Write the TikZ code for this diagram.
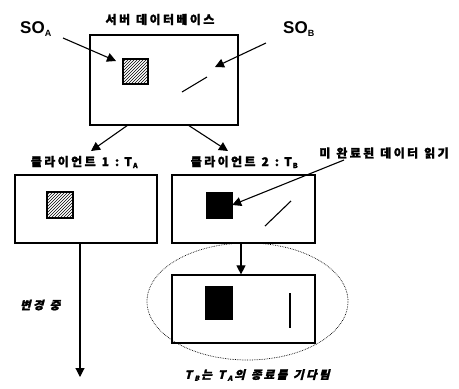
\documentclass[tikz,border=0pt]{standalone}
\usepackage{fontspec}
\newfontfamily\kr{Noto Sans CJK KR}[BoldFeatures={FakeBold=1.5}, LetterSpace=20]
\newfontfamily\krsl{Noto Sans CJK KR}[FakeSlant=0.25, BoldFeatures={FakeBold=1.5}, LetterSpace=20]
\newfontfamily\lsans{Liberation Sans}
\usetikzlibrary{arrows.meta,patterns,shapes.geometric}
\newcommand{\subx}[1]{\kern1pt\raisebox{-2pt}{\fontsize{7}{7}\selectfont #1}\kern1.5pt}
\newcommand{\subsl}[1]{\kern2.5pt\raisebox{-2pt}{\fontsize{7}{7}\selectfont #1}\kern2pt}
\newcommand{\wsp}{\hspace{6pt}}
\tikzset{
  box/.style={draw, line width=1.2pt, minimum width=143pt, minimum height=68pt, inner sep=0pt},
  hatchsq/.style={draw, line width=1.2pt, pattern=north east lines, minimum width=26pt, minimum height=26pt, inner sep=0pt},
  blacksq/.style={fill=black, draw, minimum width=26pt, minimum height=26pt, inner sep=0pt},
  krlab/.style={font=\kr\bfseries\fontsize{12}{13}\selectfont, inner sep=0pt},
  krital/.style={font=\krsl\bfseries\fontsize{11.5}{13}\selectfont, inner sep=0pt},
  solab/.style={font=\lsans\bfseries\fontsize{17}{18}\selectfont, inner sep=0pt},
  arr/.style={line width=1.1pt, -{Triangle[length=9pt,width=9pt]}},
  thinln/.style={line width=1.1pt}
}
\begin{document}
\begin{tikzpicture}[x=1pt,y=-1pt]
\useasboundingbox (0,0) rectangle (459,389);
% server
\node[krlab] (title) at (160,19.5) {서버\wsp 데이터베이스};
\node[box, minimum width=148pt, minimum height=90pt] (srv) at (164,80) {};
\node[hatchsq, minimum width=25pt, minimum height=25pt] (ha) at (135.5,71.5) {};
\coordinate (b1) at (182,92);
\coordinate (b2) at (207,77);
\draw[thinln] (b1) -- (b2);
\node[solab] (soa) at (36,29) {SO\textsubscript{\fontsize{9}{9}\selectfont A}};
\node[solab] (sob) at (299,29) {SO\textsubscript{\fontsize{9}{9}\selectfont B}};
\coordinate (soaS) at (63,38);
\coordinate (soaT) at (116,61);
\coordinate (sobS) at (266,43);
\coordinate (sobT) at (215,67);
\draw[arr] (soaS) -- (soaT);
\draw[arr] (sobS) -- (sobT);
% arrows to clients
\coordinate (s1) at (128,125);
\coordinate (s2) at (188,125);
\coordinate (t1) at (91,151);
\coordinate (t2) at (228,151);
\draw[arr] (s1) -- (t1);
\draw[arr] (s2) -- (t2);
% client 1
\node[krlab] (c1lab) at (85,162) {클라이언트\wsp 1\wsp :\ T\subx{A}};
\node[box, minimum width=142pt] (c1) at (86,209) {};
\node[hatchsq] (hc1) at (60,205) {};
\coordinate (c1b) at (80,243);
\coordinate (c1e) at (80,377);
\draw[arr] (c1b) -- (c1e);
\node[krital] (chg) at (40,305) {변경\wsp 중};
% client 2
\node[krlab] (c2lab) at (245,162) {클라이언트\wsp 2\wsp :\ T\subx{B}};
\node[box] (c2) at (243.5,209) {};
\node[blacksq] (bc2) at (219,205) {};
\coordinate (l1) at (265,226);
\coordinate (l2) at (291,201);
\draw[thinln] (l1) -- (l2);
\node[krlab] (dirty) at (384,153) {미\wsp 완료된\wsp 데이터\wsp 읽기};
\coordinate (dS) at (344,160);
\draw[arr] (dS) -- (bc2.east);
\coordinate (c2b) at (241,243);
% waiting
\node[box] (c3) at (243.5,309) {};
\draw[arr] (c2b) -- (c3.north -| c2b);
\node[blacksq, minimum width=27pt, minimum height=33pt] (bc3) at (219,302.5) {};
\coordinate (v1) at (290,293);
\coordinate (v2) at (290,328);
\draw[thinln] (v1) -- (v2);
\node[draw, densely dotted, line width=0.7pt, ellipse, minimum width=201pt, minimum height=117pt, inner sep=0pt] (ell) at (247.5,301.5) {};
\node[krital] (wait) at (257,375) {T\subsl{B}는\wsp T\subsl{A}의\wsp 종료를\wsp 기다림};
\end{tikzpicture}
\end{document}
